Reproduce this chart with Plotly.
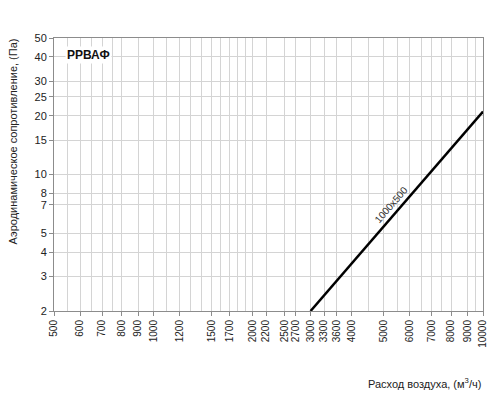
import numpy as np
import plotly.graph_objects as go

# Data
flow = [3000, 10000]          # m3/h
pressure = [2.0, 21.0]        # Pa
series_name = "1000x500"

x_ticks = [500, 600, 700, 800, 900, 1000, 1200, 1500, 1700, 2000, 2200, 2500,
           2700, 3000, 3300, 3600, 4000, 5000, 6000, 7000, 8000, 9000, 10000]
x_minor = [550, 650, 750, 1100, 1300, 1400, 1600, 1800, 1900, 4500, 5500, 6500, 7500, 9500]
y_ticks = [2, 3, 4, 5, 7, 8, 10, 15, 20, 25, 30, 40, 50]

FONT = "Liberation Sans, Arial, sans-serif"
GRID = "#d4d4d4"
AXIS = "#8c8c8c"

fig = go.Figure()
fig.add_trace(go.Scatter(x=flow, y=pressure, mode="lines",
                         line=dict(color="black", width=2.5),
                         name=series_name, showlegend=False, hoverinfo="skip"))

fig.update_layout(
    width=500, height=400,
    margin=dict(l=54, r=12, t=38, b=89),
    paper_bgcolor="white", plot_bgcolor="white",
    font=dict(family=FONT, size=11, color="#222"),
    showlegend=False,
)
fig.update_xaxes(
    type="log", range=[np.log10(500), np.log10(10000)],
    tickmode="array", tickvals=x_ticks, ticktext=[str(v) for v in x_ticks],
    tickangle=-90, tickfont=dict(size=10, color="#222"),
    showgrid=True, gridcolor=GRID, gridwidth=1,
    minor=dict(tickvals=x_minor, showgrid=True, gridcolor=GRID, gridwidth=1, ticks=""),
    showline=True, linecolor=AXIS, linewidth=1, mirror=True,
    ticks="outside", ticklen=4, tickcolor=AXIS, zeroline=False,
)
fig.update_yaxes(
    type="log", range=[np.log10(2), np.log10(50)],
    tickmode="array", tickvals=y_ticks, ticktext=[str(v) for v in y_ticks],
    tickfont=dict(size=11, color="#222"),
    showgrid=True, gridcolor=GRID, gridwidth=1,
    showline=True, linecolor=AXIS, linewidth=1, mirror=True,
    ticks="outside", ticklen=4, tickcolor=AXIS, zeroline=False,
)

# label along the line
lx = 5500
ly = 10 ** np.interp(np.log10(lx), np.log10(flow), np.log10(pressure))
fig.add_annotation(x=np.log10(lx), y=np.log10(ly), xref="x", yref="y",
                   text=series_name, showarrow=False, textangle=-49,
                   font=dict(size=10, color="#333"), xshift=-6, yshift=6)

# chart title inside plot
fig.add_annotation(x=0.025, y=0.97, xref="paper", yref="paper",
                   xanchor="left", yanchor="top", text="<b>РРВАФ</b>",
                   showarrow=False, font=dict(size=12, color="#111"),
                   bgcolor="white")

# axis titles
fig.add_annotation(x=1.0, y=-0.264, xref="paper", yref="paper",
                   xanchor="right", yanchor="middle",
                   text="Расход воздуха, (м<sup>3</sup>/ч)", showarrow=False,
                   font=dict(size=11, color="#222"))
fig.add_annotation(x=-0.096, y=0.62, xref="paper", yref="paper",
                   xanchor="center", yanchor="middle", textangle=-90,
                   text="Аэродинамическое сопротивление, (Па)", showarrow=False,
                   font=dict(size=11, color="#222"))

fig.write_html("out.html",
               config={"displayModeBar": False},
               post_script="document.body.style.margin='0';document.body.style.padding='0';")
